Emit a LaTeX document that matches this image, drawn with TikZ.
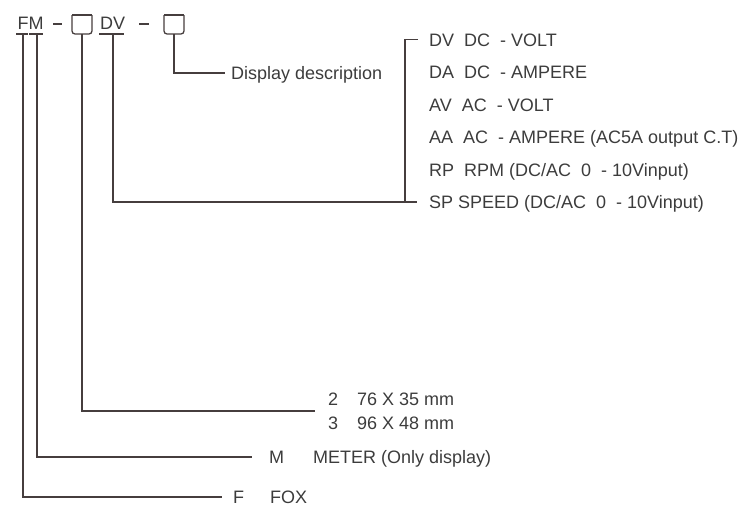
\documentclass[tikz,border=0pt]{standalone}
\usepackage{fontspec}
\setmainfont{Liberation Sans}
\definecolor{ink}{RGB}{60,60,60}
\definecolor{wirec}{RGB}{70,62,62}
\tikzset{
  txt/.style={anchor=base west,inner sep=0pt,text=ink,font=\fontsize{18}{20}\selectfont},
  wire/.style={draw=wirec,line width=1.3pt},
  bar/.style={draw=wirec,line width=2.6pt},
}

\begin{document}
\begin{tikzpicture}[x=1pt,y=-1pt]
        \useasboundingbox (0,0) rectangle (739,506);
        % model code
        \node[txt](fm)at(17.5,29.5){FM};
        \node[txt](dv)at(100,29.5){DV};
        \draw[bar](53,24)--(62,24);
        \draw[bar](139,24)--(149,24);
        \draw[wire](16,34)--(28,34);
        \draw[wire](29,34)--(43,34);
        \draw[wire](99,34)--(124,34);
        \draw[wire](72,15)--(92,15);
        \draw[wire,rounded corners=3pt](72,15)--(72,34)--(92,34)--(92,15);
        \draw[wire](164,15)--(184,15);
        \draw[wire,rounded corners=3pt](164,15)--(164,34)--(184,34)--(184,15);
        % leads
        \coordinate(f)at(23,34);
        \coordinate(m)at(37,34);
        \coordinate(size)at(82,34);
        \coordinate(type)at(113,34);
        \coordinate(desc)at(174,34);
        \coordinate(fend)at(222,497);
        \coordinate(mend)at(252,457);
        \coordinate(sizeend)at(315,411);
        \coordinate(typeend)at(417,202);
        \coordinate(descend)at(225,73);
        \coordinate(btick)at(418,39.5);
        \coordinate(bfoot)at(405,202);
        \draw[wire](f)|-(fend);
        \draw[wire](m)|-(mend);
        \draw[wire](size)|-(sizeend);
        \draw[wire](type)|-(typeend);
        \draw[wire](desc)|-(descend);
        \draw[wire](btick)-|(bfoot);
        % labels
        \node[txt](disp)at(231,79.5){Display description};
        \node[txt](dvrow)at(429,46){DV\ \ DC\ \ - VOLT};
        \node[txt](darow)at(429,78.5){DA\ \ DC\ \ - AMPERE};
        \node[txt](avrow)at(429,111){AV\ \ AC\ \ - VOLT};
        \node[txt](aarow)at(429,143.5){AA\ \ AC\ \ - AMPERE (AC5A output C.T)};
        \node[txt](rprow)at(429,176){RP\ \ RPM (DC/AC\ \ 0\ \ - 10Vinput)};
        \node[txt](sprow)at(429,208.5){SP SPEED (DC/AC\ \ 0\ \ - 10Vinput)};
        \node[txt](two)at(328,405.5){2};
        \node[txt](twotxt)at(357,405.5){76 X 35 mm};
        \node[txt](three)at(328,429.5){3};
        \node[txt](threetxt)at(357,429.5){96 X 48 mm};
        \node[txt](mcode)at(269,463.5){M};
        \node[txt](mtxt)at(313,463.5){METER (Only display)};
        \node[txt](fcode)at(233,503.3){F};
        \node[txt](ftxt)at(270,503.3){FOX};
    \end{tikzpicture}
\end{document}
